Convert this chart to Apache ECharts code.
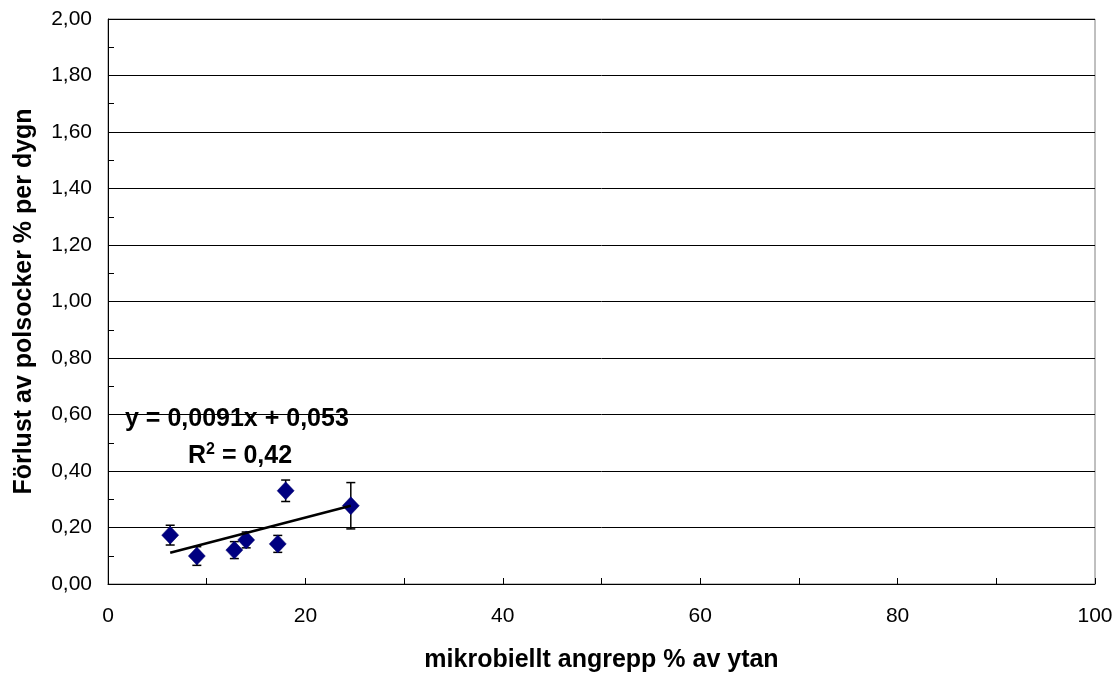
<!DOCTYPE html>
<html>
<head>
<meta charset="utf-8">
<script src="https://cdn.jsdelivr.net/npm/echarts@6/dist/echarts.min.js"></script>
<style>
html,body{margin:0;padding:0;background:#fff;}
#chart{width:1120px;height:673px;}
</style>
</head>
<body>
<div id="chart"></div>
<script>
// Data
var xValues = [6.3, 9.0, 12.8, 14.0, 17.2, 18.0, 24.6];
var yValues = [0.173, 0.099, 0.120, 0.156, 0.142, 0.330, 0.277];
var yErrors = [0.035, 0.033, 0.030, 0.028, 0.030, 0.038, 0.082];
// Trendline coefficients as printed on the chart
var trendSlope = 0.0091;
var trendIntercept = 0.053;
var equationText = 'y = 0,0091x + 0,053';
var r2Text = '0,42';
var xTitle = 'mikrobiellt angrepp % av ytan';
var yTitle = 'Förlust av polsocker % per dygn';

var points = xValues.map(function (x, i) { return [x, yValues[i]]; });
var errData = xValues.map(function (x, i) { return [x, yValues[i] - yErrors[i], yValues[i] + yErrors[i]]; });
var xMin = Math.min.apply(null, xValues), xMax = Math.max.apply(null, xValues);
var trendData = [[xMin, trendSlope * xMin + trendIntercept], [xMax, trendSlope * xMax + trendIntercept]];

var font = '"Liberation Sans", Arial, sans-serif';
var chart = echarts.init(document.getElementById('chart'), null, {renderer: 'canvas'});
chart.setOption({
  animation: false,
  backgroundColor: '#fff',
  grid: {left: 108, right: 25, top: 19, bottom: 89, outerBoundsMode: 'none', containLabel: false,
    show: true, borderColor: '#808080', borderWidth: 1, backgroundColor: 'transparent'},
  xAxis: {
    type: 'value', min: 0, max: 100, interval: 20,
    name: xTitle, nameLocation: 'middle', nameGap: 64,
    nameTextStyle: {fontFamily: font, fontWeight: 'bold', fontSize: 25, color: '#000'},
    axisLine: {show: true, lineStyle: {color: '#000', width: 1}},
    axisTick: {show: true, inside: true, length: 6, lineStyle: {color: '#000'}},
    minorTick: {show: true, splitNumber: 2, length: 6, lineStyle: {color: '#000'}},
    axisLabel: {fontFamily: font, fontSize: 21, color: '#000', margin: 22},
    splitLine: {show: false}
  },
  yAxis: {
    type: 'value', min: 0, max: 2, interval: 0.2,
    name: yTitle, nameLocation: 'middle', nameGap: 71, nameRotate: 90,
    nameTextStyle: {fontFamily: font, fontWeight: 'bold', fontSize: 25, color: '#000'},
    axisLine: {show: true, lineStyle: {color: '#000', width: 1}},
    axisTick: {show: true, inside: true, length: 6, lineStyle: {color: '#000'}},
    minorTick: {show: true, splitNumber: 2, length: 6, lineStyle: {color: '#000'}},
    axisLabel: {fontFamily: font, fontSize: 21, color: '#000', margin: 16,
      formatter: function (v) { return v.toFixed(2).replace('.', ','); }},
    splitLine: {show: true, lineStyle: {color: '#000', width: 1}}
  },
  series: [
    {
      type: 'custom', z: 2,
      data: errData,
      renderItem: function (params, api) {
        var x = api.value(0);
        var lo = api.coord([x, api.value(1)]);
        var hi = api.coord([x, api.value(2)]);
        var cap = 4.5;
        var style = {stroke: '#000', lineWidth: 1.5};
        return {type: 'group', children: [
          {type: 'line', shape: {x1: lo[0], y1: lo[1], x2: hi[0], y2: hi[1]}, style: style},
          {type: 'line', shape: {x1: hi[0] - cap, y1: hi[1], x2: hi[0] + cap, y2: hi[1]}, style: style},
          {type: 'line', shape: {x1: lo[0] - cap, y1: lo[1], x2: lo[0] + cap, y2: lo[1]}, style: style}
        ]};
      }
    },
    {
      type: 'scatter', z: 3,
      data: points,
      symbol: 'diamond', symbolSize: [17, 18],
      itemStyle: {color: '#000080', opacity: 1, borderColor: '#00006a', borderWidth: 0.5}
    },
    {
      type: 'line', z: 4,
      data: trendData,
      symbol: 'none',
      lineStyle: {color: '#000', width: 2.5}
    }
  ],
  graphic: [
    {type: 'text', left: 125, top: 407,
      style: {text: equationText, font: 'bold 25px ' + font, fill: '#000'}},
    {type: 'text', left: 188, top: 442,
      style: {text: 'R{sup|2} = ' + r2Text, font: 'bold 25px ' + font, fill: '#000',
        rich: {sup: {fontSize: 16, fontWeight: 'bold', fontFamily: font, verticalAlign: 'top', padding: [0, 0, 12, 0]}}}}
  ]
});
</script>
</body>
</html>
